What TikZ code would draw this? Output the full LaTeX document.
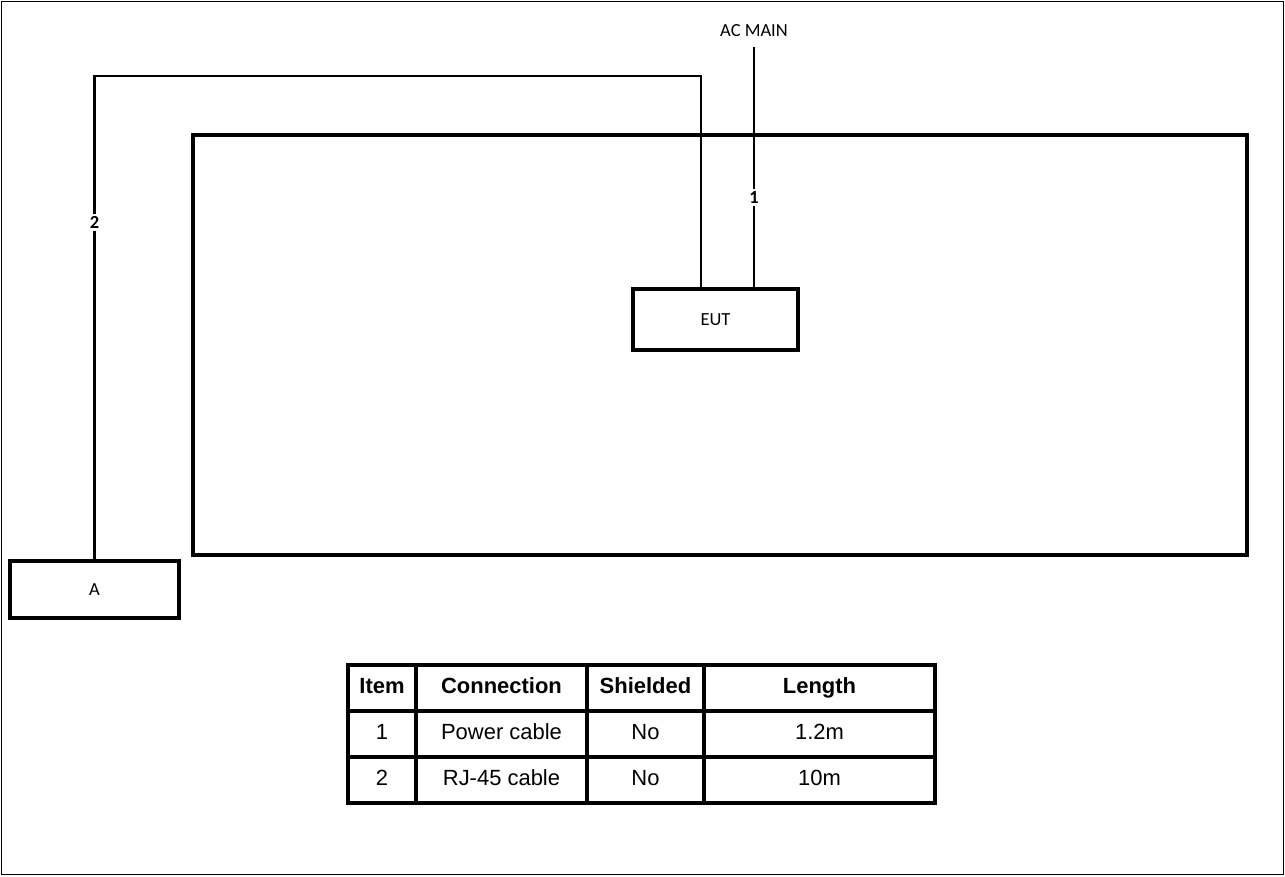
\documentclass[tikz,border=0pt]{standalone}
\usepackage{fontspec}
\setmainfont{Carlito}
\newfontfamily\arialfont{Liberation Sans}
\usetikzlibrary{positioning}

\begin{document}
\begin{tikzpicture}[
  unit/.style={draw, line width=2.4pt, font=\fontsize{10.5}{12}\selectfont},
  cable/.style={line width=1.6pt},
  cablelabel/.style={fill=white, inner sep=1.5pt, font=\fontsize{10.5}{12}\selectfont\bfseries},
  grid/.style={line width=1.9pt},
  cell/.style={font=\arialfont\fontsize{12.5}{14}\selectfont, text height=1.6ex, text depth=0.35ex},
  headcell/.style={cell, font=\arialfont\fontsize{12.5}{14}\selectfont\bfseries}
]
  \useasboundingbox (0,0) rectangle (25.7,17.52);
  \draw[line width=1pt] (0.03,0.03) rectangle (25.67,17.49);

  % Table area and units
  \node[unit, minimum width=21.08cm, minimum height=8.4cm] (table) at (14.4, 10.62) {};
  \node[unit, minimum width=3.3cm, minimum height=1.22cm] (eut) at (14.31, 11.13) {EUT};
  \node[unit, minimum width=3.38cm, minimum height=1.14cm] (aux) at (1.89, 5.73) {A};

  % Cables
  \coordinate (mainend) at (15.08, 16.58);
  \node[font=\fontsize{10.5}{12}\selectfont] (acmain) at (15.08, 16.9) {AC MAIN};
  \draw[cable] (mainend) -- node[cablelabel, pos=0.628] {1} (mainend |- eut.north);

  \coordinate (bend) at (14.02, 16.0);
  \draw[cable] (aux.north) -- node[cablelabel, pos=0.697] {2} (aux.north |- bend)
    -- (bend) -- (bend |- eut.north);

  % Cable list
  \draw[grid] (6.96, 1.46) rectangle (18.7, 4.22);
  \draw[grid] (6.96, 3.30) -- (18.7, 3.30);
  \draw[grid] (6.96, 2.38) -- (18.7, 2.38);
  \foreach \x in {8.32, 11.74, 14.08}
    \draw[grid] (\x, 1.46) -- (\x, 4.22);

  \node[headcell] (hitem) at (7.64, 3.76) {Item};
  \node[headcell] (hconn) at (10.03, 3.76) {Connection};
  \node[headcell] (hshield) at (12.91, 3.76) {Shielded};
  \node[headcell] (hlen) at (16.39, 3.76) {Length};

  \foreach \ino/\con/\sh/\len [count=\r] in {1/Power cable/No/1.2m, 2/RJ-45 cable/No/10m} {
    \node[cell] (item\r) at (7.64, 3.76-0.92*\r) {\ino};
    \node[cell] (conn\r) at (10.03, 3.76-0.92*\r) {\con};
    \node[cell] (shield\r) at (12.91, 3.76-0.92*\r) {\sh};
    \node[cell] (len\r) at (16.39, 3.76-0.92*\r) {\len};
  }
\end{tikzpicture}
\end{document}
